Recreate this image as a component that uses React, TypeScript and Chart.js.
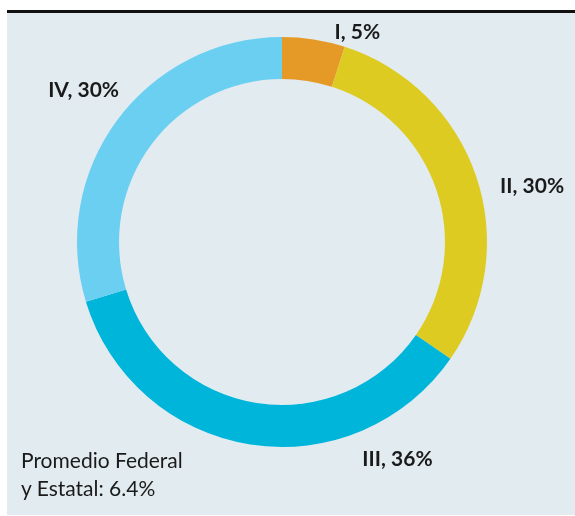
import React, { useEffect, useRef } from "react";
import { Chart, registerables } from "chart.js";

Chart.register(...registerables);

const categories = ["I", "II", "III", "IV"];
const values = [5, 30, 36, 30];
const valueLabels = ["5%", "30%", "36%", "30%"];
const colors = ["#E59A28", "#DDCB22", "#00B5DA", "#6BCFF2"];
// label placement: angle in degrees clockwise from top, distance as factor of outer radius
const labelAngles = [19.8, 77.4, 152, 307.5];
const labelDistances = [1.085, 1.25, 1.2, 1.22];
const noteLines = ["Promedio Federal", "y Estatal: 6.4%"];

const labelPlugin = {
  id: "sliceLabels",
  afterDraw(chart: any) {
    const meta = chart.getDatasetMeta(0);
    const arc = meta.data[0];
    if (!arc) return;
    const cx = arc.x;
    const cy = arc.y;
    const r = arc.outerRadius;
    const ctx = chart.ctx;
    ctx.save();
    ctx.fillStyle = "#1a1a1a";
    ctx.font = "bold 21px Lato";
    ctx.textAlign = "center";
    ctx.textBaseline = "middle";
    categories.forEach((c, i) => {
      const a = (labelAngles[i] * Math.PI) / 180;
      const d = r * labelDistances[i];
      ctx.fillText(`${c}, ${valueLabels[i]}`, cx + d * Math.sin(a), cy - d * Math.cos(a));
    });
    ctx.restore();
  },
};

export default function App() {
  const ref = useRef<HTMLCanvasElement | null>(null);
  useEffect(() => {
    if (!ref.current) return;
    const chart = new Chart(ref.current, {
      type: "doughnut",
      data: {
        labels: categories,
        datasets: [
          {
            data: values,
            backgroundColor: colors,
            borderWidth: 0,
          },
        ],
      },
      options: {
        responsive: false,
        animation: false,
        cutout: "79.5%",
        layout: { padding: { left: 70, right: 88, top: 24, bottom: 68 } },
        plugins: {
          legend: { display: false },
          tooltip: { enabled: false },
        },
      },
      plugins: [labelPlugin],
    });
    return () => chart.destroy();
  }, []);

  return (
    <div style={{ position: "absolute", left: 7, top: 0, width: 568, height: 516 }}>
      <div style={{ position: "absolute", left: 0, top: 10, width: 568, height: 3, background: "#111" }} />
      <div style={{ position: "absolute", left: 0, top: 13, width: 568, height: 502, background: "#E2EBF0" }}>
        <canvas ref={ref} width={568} height={502} style={{ display: "block" }} />
        <div
          style={{
            position: "absolute",
            left: 14,
            top: 433,
            fontFamily: "Lato",
            fontSize: 21,
            lineHeight: "28px",
            color: "#1a1a1a",
          }}
        >
          {noteLines.map((l, i) => (
            <div key={i}>{l}</div>
          ))}
        </div>
      </div>
    </div>
  );
}
